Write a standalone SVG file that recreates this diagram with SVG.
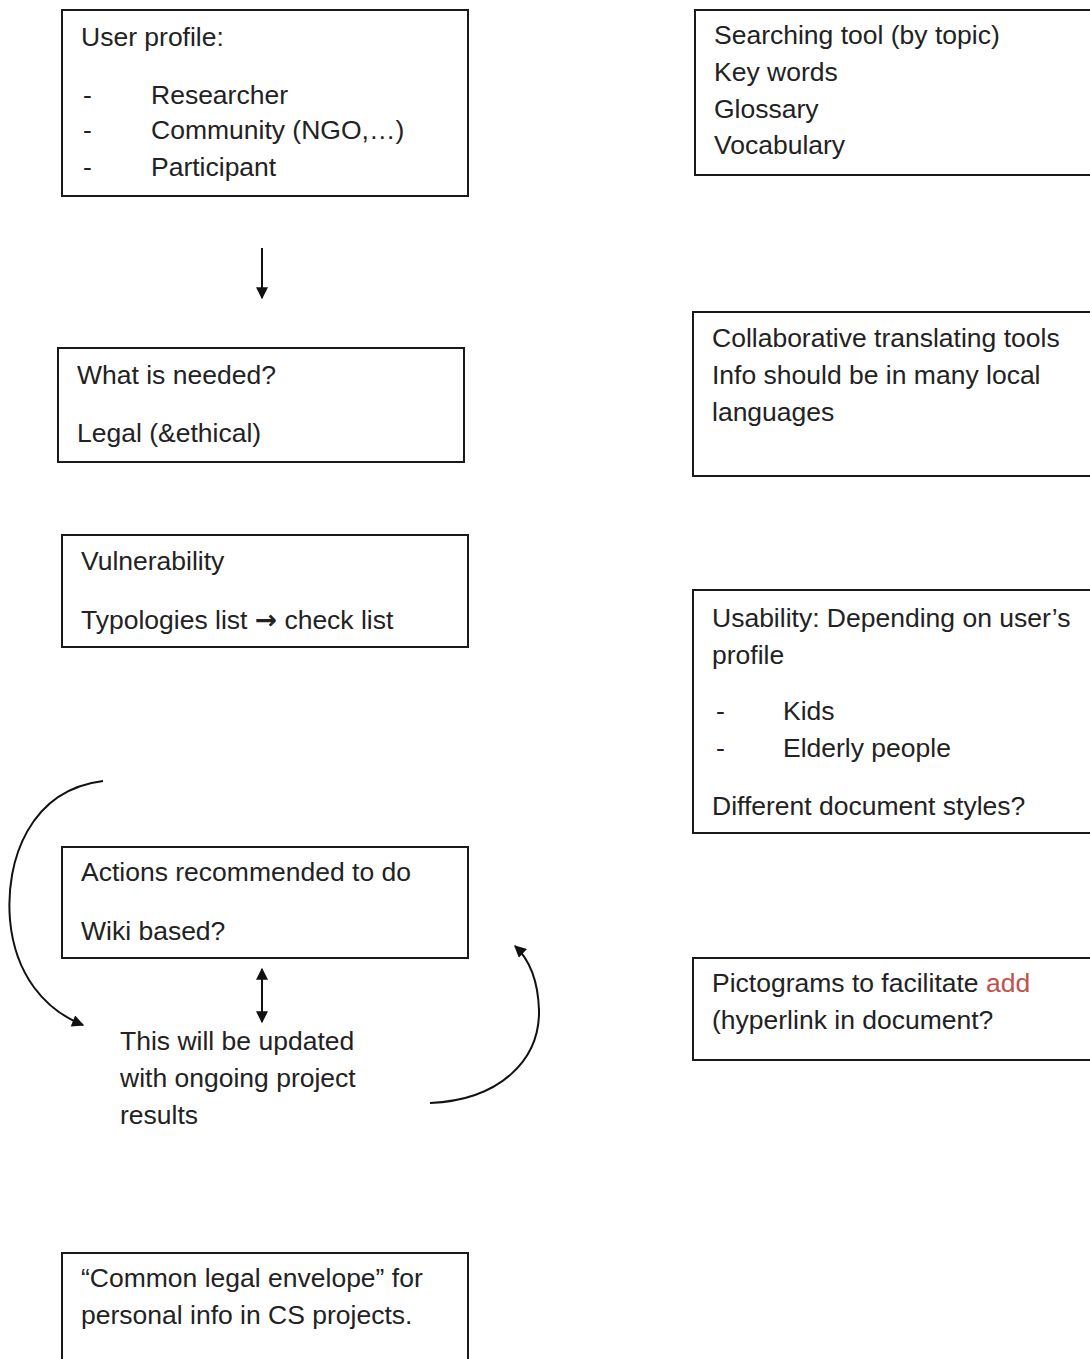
<svg xmlns="http://www.w3.org/2000/svg" width="1090" height="1359" viewBox="0 0 1090 1359">
<style>
.box{fill:#fff;stroke:#1a1a1a;stroke-width:2}
text{font-family:"Liberation Sans",Arial,sans-serif;font-size:26.5px;fill:#222}
.red{fill:#c0504d}
.arr{font-family:"DejaVu Sans",sans-serif;font-weight:bold}
.ln{fill:none;stroke:#111;stroke-width:2}
</style>
<defs>
<marker id="ah2" viewBox="0 0 10 10" refX="9" refY="5" markerWidth="16" markerHeight="12" orient="auto-start-reverse" markerUnits="userSpaceOnUse">
<path d="M0,0 L10,5 L0,10 z" fill="#111"/>
</marker>
</defs>
<rect width="1090" height="1359" fill="#fff"/>
<g id="user-profile">
<rect class="box" x="62" y="10" width="406" height="186"/>
<text x="81" y="46">User profile:</text>
<text x="83" y="104">-</text><text x="151" y="104">Researcher</text>
<text x="83" y="139">-</text><text x="151" y="139">Community (NGO,…)</text>
<text x="83" y="176">-</text><text x="151" y="176">Participant</text>
</g>
<g id="what-needed">
<rect class="box" x="58" y="348" width="406" height="114"/>
<text x="77" y="384">What is needed?</text>
<text x="77" y="442">Legal (&amp;ethical)</text>
</g>
<g id="vulnerability">
<rect class="box" x="62" y="535" width="406" height="112"/>
<text x="81" y="570">Vulnerability</text>
<text x="81" y="629">Typologies list <tspan class="arr">→</tspan> check list</text>
</g>
<g id="actions">
<rect class="box" x="62" y="847" width="406" height="111"/>
<text x="81" y="881">Actions recommended to do</text>
<text x="81" y="940">Wiki based?</text>
</g>
<g id="updated">
<text x="120" y="1050">This will be updated</text>
<text x="120" y="1087">with ongoing project</text>
<text x="120" y="1124">results</text>
</g>
<g id="common-legal">
<rect class="box" x="62" y="1253" width="406" height="120"/>
<text x="81" y="1287">“Common legal envelope” for</text>
<text x="81" y="1324">personal info in CS projects.</text>
</g>
<g id="searching">
<rect class="box" x="695" y="10" width="410" height="165"/>
<text x="714" y="44">Searching tool (by topic)</text>
<text x="714" y="81">Key words</text>
<text x="714" y="118">Glossary</text>
<text x="714" y="154">Vocabulary</text>
</g>
<g id="collaborative">
<rect class="box" x="693" y="312" width="410" height="164"/>
<text x="712" y="347">Collaborative translating tools</text>
<text x="712" y="384">Info should be in many local</text>
<text x="712" y="421">languages</text>
</g>
<g id="usability">
<rect class="box" x="693" y="590" width="410" height="243"/>
<text x="712" y="627">Usability: Depending on user’s</text>
<text x="712" y="664">profile</text>
<text x="716" y="720">-</text><text x="783" y="720">Kids</text>
<text x="716" y="757">-</text><text x="783" y="757">Elderly people</text>
<text x="712" y="815">Different document styles?</text>
</g>
<g id="pictograms">
<rect class="box" x="693" y="958" width="410" height="102"/>
<text x="712" y="992">Pictograms to facilitate <tspan class="red">add</tspan></text>
<text x="712" y="1029">(hyperlink in document?</text>
</g>
<g id="connectors">
<line class="ln" x1="262" y1="248" x2="262" y2="298" marker-end="url(#ah2)"/>
<line class="ln" x1="262" y1="969" x2="262" y2="1022" marker-start="url(#ah2)" marker-end="url(#ah2)"/>
<path class="ln" d="M103,781 C30,790 5,860 10,920 C15,975 45,1010 83,1025" marker-end="url(#ah2)"/>
<path class="ln" d="M430,1103 C500,1100 540,1060 539,1010 C538,980 530,960 515,946" marker-end="url(#ah2)"/>
</g>
</svg>
